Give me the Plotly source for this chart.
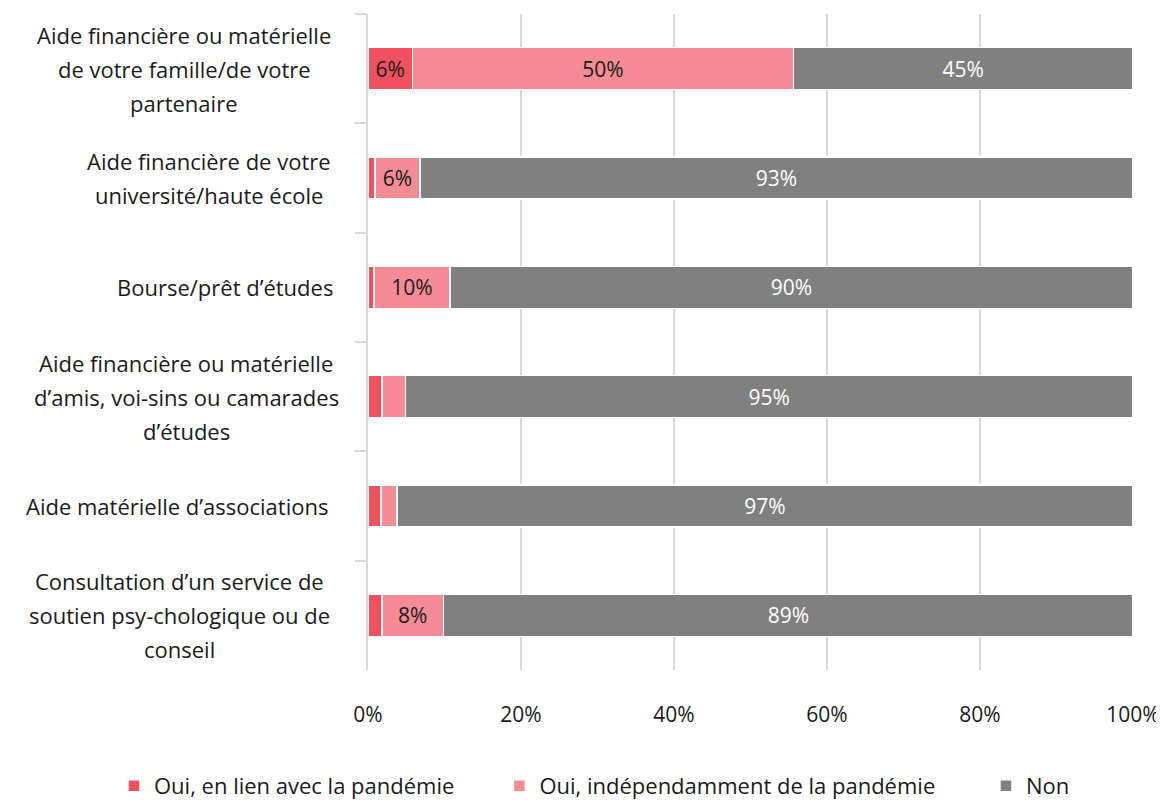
import plotly.graph_objects as go

categories = [
    "Aide financière ou matérielle<br>de votre famille/de votre<br>partenaire",
    "Aide financière de votre<br>université/haute école",
    "Bourse/prêt d’études",
    "Aide financière ou matérielle<br>d’amis, voi-sins ou camarades<br>d’études",
    "Aide matérielle d’associations",
    "Consultation d’un service de<br>soutien psy-chologique ou de<br>conseil",
]
series_names = ["Oui, en lien avec la pandémie", "Oui, indépendamment de la pandémie", "Non"]
oui_pandemie = [5.8, 0.9, 0.8, 1.8, 1.7, 1.8]
oui_independant = [49.8, 5.9, 9.9, 3.1, 2.1, 8.1]
non = [44.4, 93.2, 89.3, 95.1, 96.2, 90.1]
labels_pandemie = ["6%", "", "", "", "", ""]
labels_independant = ["50%", "6%", "10%", "", "", "8%"]
labels_non = ["45%", "93%", "90%", "95%", "97%", "89%"]
x_tick_vals = [0, 20, 40, 60, 80, 100]
x_tick_text = ["0%", "20%", "40%", "60%", "80%", "100%"]

FONT = "Open Sans"
colors = ["#f0515f", "#f58c95", "#808080"]
text_colors = ["#1a1a1a", "#1a1a1a", "#ffffff"]
legend_pads = [7, 8, 0]  # trailing non-breaking spaces for legend spacing

fig = go.Figure()
for name, vals, labs, col, tcol, pad in zip(
    series_names,
    [oui_pandemie, oui_independant, non],
    [labels_pandemie, labels_independant, labels_non],
    colors, text_colors, legend_pads,
):
    fig.add_trace(go.Bar(
        y=categories, x=vals, name=name + "\u00a0" * pad, orientation="h",
        marker=dict(color=col, line=dict(color="white", width=1.5)),
        text=labs, textposition="inside", insidetextanchor="middle",
        textfont=dict(family=FONT, size=21, color=tcol),
        constraintext="none", hoverinfo="skip",
    ))

# Layout geometry (page is drawn with an 8px body offset)
OFF = 8
L, T = 368 - OFF, 14 - OFF
W, H = 1164, 800
pw = 765
ph = 656
R = W - L - pw
B = H - T - ph

# Category labels, centred lines (centres in screen px)
centers_px = [184, 209, 225, 186, 177, 179]
line_gap = 34
annotations = []
for cat, cpx in zip(categories, centers_px):
    lines = cat.split("<br>")
    n = len(lines)
    for k, line in enumerate(lines):
        off = (k - (n - 1) / 2) * line_gap
        annotations.append(dict(
            x=(cpx - OFF - L) / pw, xref="paper", y=cat, yref="y",
            text=line, showarrow=False, xanchor="center", yanchor="middle",
            yshift=-off, font=dict(family=FONT, size=22, color="#1a1a1a"),
        ))

legend_left_fig = 134 - OFF - 20
legend_mid_fig = 786 - OFF

fig.update_layout(
    barmode="stack", bargap=0.615,
    width=W, height=H,
    margin=dict(l=L, r=R, t=T, b=B, pad=0, autoexpand=False),
    plot_bgcolor="white", paper_bgcolor="white",
    font=dict(family=FONT, size=20, color="#1a1a1a"),
    annotations=annotations,
    legend=dict(orientation="h",
                x=(legend_left_fig - L) / pw, xanchor="left", xref="paper",
                y=-(legend_mid_fig - (T + ph)) / ph, yanchor="middle", yref="paper",
                font=dict(family=FONT, size=22, color="#1a1a1a"),
                itemwidth=30, traceorder="normal"),
    xaxis=dict(range=[0, 100], tickvals=x_tick_vals, ticktext=x_tick_text,
               showgrid=True, gridcolor="#d9d9d9", gridwidth=2,
               zeroline=False, showline=False, automargin=False,
               ticks="outside", ticklen=26, tickcolor="rgba(0,0,0,0)",
               tickfont=dict(family=FONT, size=21, color="#1a1a1a")),
    yaxis=dict(autorange="reversed", showticklabels=False, automargin=False,
               tickson="boundaries", ticks="outside", ticklen=11,
               tickcolor="#d9d9d9", tickwidth=2,
               showline=True, linecolor="#d9d9d9", linewidth=2,
               showgrid=False),
)
fig.write_html("out.html")
